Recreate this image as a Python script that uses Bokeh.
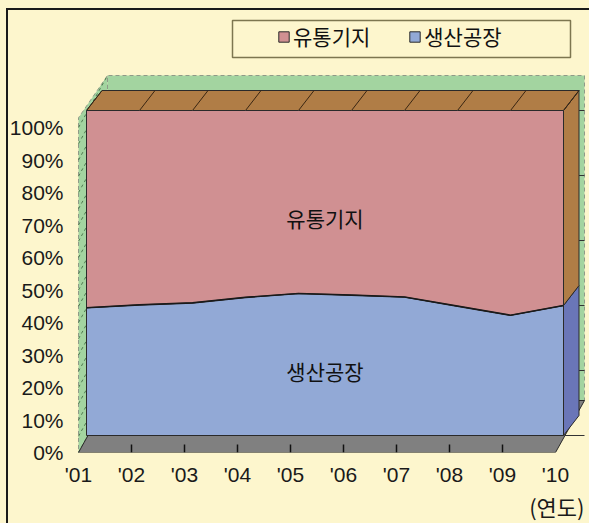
from bokeh.plotting import figure
from bokeh.models import Range1d, FixedTicker, Legend, LegendItem, Title
from bokeh.embed import file_html
from bokeh.resources import INLINE
from bokeh.core.properties import value

# ---------------- data ----------------
years = ["'01", "'02", "'03", "'04", "'05", "'06", "'07", "'08", "'09", "'10"]
production = [39.3, 40.2, 40.8, 42.5, 43.7, 43.2, 42.6, 39.8, 37.0, 40.0]      # 생산공장 (%)
distribution = [60.7, 59.8, 59.2, 57.5, 56.3, 56.8, 57.4, 60.2, 63.0, 60.0]    # 유통기지 (%)
series_names = ["유통기지", "생산공장"]
y_ticks = [0, 10, 20, 30, 40, 50, 60, 70, 80, 90, 100]
y_tick_labels = ["0%", "10%", "20%", "30%", "40%", "50%", "60%", "70%", "80%", "90%", "100%"]
unit_label = "(연도)"

# ---------------- styles / layout ----------------
BG = "#fdf6cd"
PINK = "#d09092"
BLUE = "#92a9d6"
BLUE_SIDE = "#6a76b8"
BROWN = "#b07d46"
GREEN = "#a3d4a0"
FLOOR = "#808080"
EDGE = "#2a2a2a"
NUM_FONT = "Liberation Sans"
KR_FONT = "Noto Sans CJK KR"

PX_X = 53.0     # px per category
PX_Y = 3.25     # px per percent
X0_PX, Y0_PX = 78, 452   # pixel position of the first category / 0 %
# 3-D offsets (data units) of the area's front face, back face and the walls
FX, FY = 8 / PX_X, 17 / PX_Y
BX, BY = 23.5 / PX_X, 37 / PX_Y
WX, WY = 29 / PX_X, 52 / PX_Y

def dx(px):
    return (px - X0_PX) / PX_X

def dy(py):
    return (Y0_PX - py) / PX_Y

n = len(years)
xs = list(range(n))
last = n - 1
stack_top = [a + b for a, b in zip(production, distribution)]

p = figure(frame_width=519, frame_height=452,
           min_border_left=70, min_border_right=0, min_border_top=0, min_border_bottom=71,
           output_backend="svg", toolbar_location=None,
           x_range=Range1d(dx(70), dx(589)), y_range=Range1d(0, dy(0)))
p.background_fill_alpha = 0
p.border_fill_alpha = 0
p.outline_line_color = None
p.xgrid.visible = False
p.ygrid.visible = False
# cream card with a dark frame line at its left and top
p.styles = {
    "background": ("linear-gradient(#1a1a1a, #1a1a1a) 6px 8px / 2px 100% no-repeat, "
                   "linear-gradient(#1a1a1a, #1a1a1a) 6px 8px / 100% 2px no-repeat, " + BG),
}

# back wall
p.patch([0 + WX, last + WX, last + WX, 0 + WX], [WY, WY, 100 + WY, 100 + WY],
        fill_color=GREEN, line_color="#8f9a88", line_dash="4 3", line_width=1)
# left wall
p.patch([0, 0 + WX, 0 + WX, 0], [0, WY, 100 + WY, 103],
        fill_color=GREEN, line_color="#8f9a88", line_dash="4 3", line_width=1)
# side-wall gridlines
grid_v = list(range(0, 101, 5))
p.segment(x0=[0] * len(grid_v), y0=grid_v, x1=[WX] * len(grid_v), y1=[v + WY for v in grid_v],
          line_color="#4f7a50", line_width=1, line_dash="3 3")
back_v = [0, 20, 40, 60, 80, 100]
p.segment(x0=[WX] * len(back_v), y0=[v + FY for v in back_v],
          x1=[last + WX] * len(back_v), y1=[v + FY for v in back_v],
          line_color="#333333", line_width=1.2)

# floor
p.patch([0, last, last + WX, 0 + WX], [0, 0, WY, WY],
        fill_color=FLOOR, line_color=EDGE, line_width=1)
# axis ticks on the floor edge
p.segment(x0=xs[1:-1], y0=[0] * (n - 2), x1=xs[1:-1], y1=[8 / PX_Y] * (n - 2),
          line_color="#111111", line_width=1.5)

# right side faces
pb, pt = production[last], stack_top[last]
p.patch([last + FX, last + FX, last + BX, last + BX], [FY, pb + FY, pb + BY, BY],
        fill_color=BLUE_SIDE, line_color=EDGE, line_width=1)
p.patch([last + FX, last + FX, last + BX, last + BX], [pb + FY, pt + FY, pt + BY, pb + BY],
        fill_color=BROWN, line_color=EDGE, line_width=1)
# top face
p.patch([0 + FX, last + FX, last + BX, 0 + BX],
        [stack_top[0] + FY, pt + FY, pt + BY, stack_top[0] + BY],
        fill_color=BROWN, line_color=EDGE, line_width=1)
p.segment(x0=[x + FX for x in xs], y0=[t + FY for t in stack_top],
          x1=[x + BX for x in xs], y1=[t + BY for t in stack_top],
          line_color="#3a2612", line_width=1)

# front faces
fx = [x + FX for x in xs]
blue_r = p.patch(fx + [last + FX, 0 + FX], [v + FY for v in production] + [FY, FY],
                 fill_color=BLUE, line_color=EDGE, line_width=1)
pink_r = p.patch(fx + fx[::-1],
                 [t + FY for t in stack_top] + [v + FY for v in production][::-1],
                 fill_color=PINK, line_color=EDGE, line_width=1)
p.line(fx, [v + FY for v in production], line_color="#1a1a1a", line_width=1.6)

# in-area labels
p.text(x=[(xs[0] + xs[-1]) / 2 + FX] * 2, y=[67 + FY, 20 + FY], text=series_names,
       text_font=value(KR_FONT), text_font_size="21px", text_color="#111111",
       text_align="center", text_baseline="middle")

# legend box + legend
p.quad(left=[dx(232)], right=[dx(570)], top=[dy(20)], bottom=[dy(57)],
       fill_color=BG, line_color="#7d7650", line_width=1.5)
legend = Legend(items=[LegendItem(label=series_names[0], renderers=[pink_r]),
                       LegendItem(label=series_names[1], renderers=[blue_r])],
                orientation="horizontal", location=(207, 401), padding=0, spacing=38,
                label_standoff=3, glyph_width=13, glyph_height=13,
                border_line_color=None, background_fill_alpha=0,
                label_text_font=KR_FONT, label_text_font_size="21px",
                label_text_color="#111111")
p.add_layout(legend)

# axes
p.yaxis.ticker = FixedTicker(ticks=y_ticks)
p.yaxis.major_label_overrides = {t: l for t, l in zip(y_ticks, y_tick_labels)}
p.xaxis.ticker = FixedTicker(ticks=xs)
p.xaxis.major_label_overrides = {x: y for x, y in zip(xs, years)}
for ax in (p.xaxis, p.yaxis):
    ax.axis_line_color = None
    ax.major_tick_line_color = None
    ax.minor_tick_line_color = None
    ax.major_label_text_font = NUM_FONT
    ax.major_label_text_font_size = "21px"
    ax.major_label_text_color = "#1a1a1a"
p.yaxis.major_label_standoff = 1
p.xaxis.major_label_standoff = 4

# unit label under the last year
p.add_layout(Title(text=unit_label, align="right", offset=5, standoff=0,
                   vertical_align="middle",
                   text_font=KR_FONT, text_font_size="22px", text_font_style="normal",
                   text_color="#1a1a1a"), "below")

html = file_html(p, INLINE)
html = html.replace("<body>", '<body style="background-color:%s;">' % BG, 1)
open("out.html", "w").write(html)
